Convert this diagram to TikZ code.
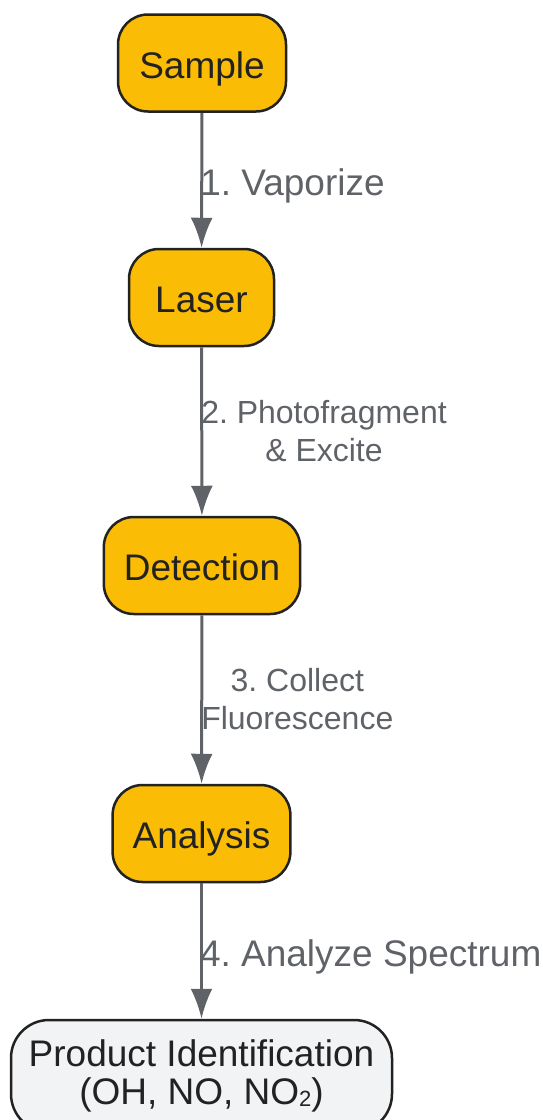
\documentclass[tikz,border=0pt]{standalone}
\usepackage{fontspec}
\setmainfont{Liberation Sans}
\usetikzlibrary{arrows.meta}
\frenchspacing
\definecolor{stageyellow}{HTML}{FBBC05}
\definecolor{flowgray}{HTML}{5F6368}
\definecolor{inkdark}{HTML}{222222}
\definecolor{resultfill}{HTML}{F1F3F4}
\tikzset{
  >={Latex[length=30pt,width=22pt]},
}
\tikzstyle{stage}=[draw=inkdark,line width=2.5pt,fill=stageyellow,text=inkdark,
  rounded corners=30pt,minimum height=97pt,inner xsep=20pt,
  text height=33pt,text depth=3pt,font=\fontsize{37}{38}\selectfont]
\tikzstyle{result}=[draw=inkdark,line width=2.5pt,fill=resultfill,text=inkdark,
  rounded corners=38pt,align=center,font=\fontsize{37}{38}\selectfont]
\tikzstyle{flow}=[line width=3pt,flowgray,->]
\tikzstyle{steplabel}=[anchor=west,inner sep=0pt,xshift=-3pt,text=flowgray,
  text height=33pt,text depth=3pt,font=\fontsize{37}{38}\selectfont]
\tikzstyle{smalllabel}=[anchor=west,inner sep=0pt,xshift=-2pt,text=flowgray,
  align=center,font=\fontsize{32}{38}\selectfont]
\newcommand{\subtwo}{\raisebox{-2pt}{\fontsize{22}{22}\selectfont 2}}

\begin{document}
\begin{tikzpicture}[x=1pt,y=-1pt]
  \useasboundingbox (0,0) rectangle (542,1120);
  \node[stage,minimum width=168pt] (sample) at (202,63) {Sample};
  \node[stage,minimum width=145pt] (laser) at (201.5,297.5) {Laser};
  \node[stage,minimum width=196pt] (detection) at (202,565.5) {Detection};
  \node[stage,minimum width=177pt] (analysis) at (201.5,833.5) {Analysis};
  \node[result,minimum width=381pt,minimum height=112pt] (product) at (201.5,1076)
    {Product Identification\\(OH, NO, NO\subtwo)};

  \draw[flow] (sample) -- node[steplabel]{1. Vaporize} (laser);
  \draw[flow] (laser) -- node[smalllabel]{2. Photofragment\\\& Excite} (detection);
  \draw[flow] (detection) -- node[smalllabel]{3. Collect\\Fluorescence} (analysis);
  \draw[flow] (analysis) -- node[steplabel]{4. Analyze Spectrum} (product);
\end{tikzpicture}
\end{document}
